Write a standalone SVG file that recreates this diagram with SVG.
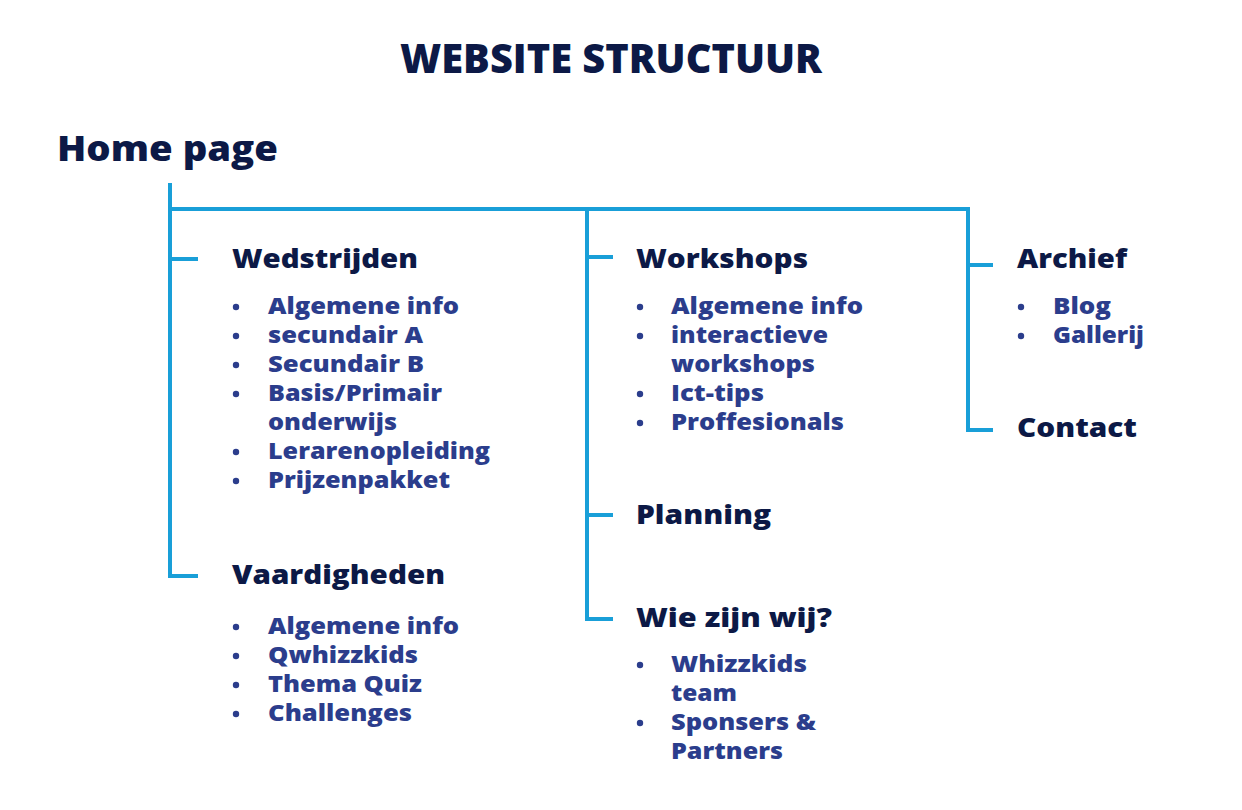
<svg xmlns="http://www.w3.org/2000/svg" width="1242" height="810" viewBox="0 0 1242 810">
<style>
.t{font-family:"Open Sans","Noto Sans",sans-serif;font-weight:800;fill:#0c1946}
.h{font-size:27px}
.i{font-family:"Open Sans","Noto Sans",sans-serif;font-weight:800;font-size:22px;fill:#2b3d8c}
.ln{stroke:#199fd8;stroke-width:4;fill:none;stroke-linecap:butt}
.b{fill:#2b3d8c}
</style>
<rect width="1242" height="810" fill="#ffffff"/>
<text class="t" x="611" y="73" font-size="40" text-anchor="middle" textLength="422" lengthAdjust="spacingAndGlyphs">WEBSITE STRUCTUUR</text>
<g id="connectors">
<path class="ln" d="M170 183 V576 H198"/>
<path class="ln" d="M170 209 H968 V430 H993"/>
<path class="ln" d="M170 259 H198"/>
<path class="ln" d="M587 209 V619 H613"/>
<path class="ln" d="M587 257 H613"/>
<path class="ln" d="M587 515 H613"/>
<path class="ln" d="M968 265 H993"/>
</g>
<g id="home"><text class="t" x="57" y="161" font-size="36" textLength="221" lengthAdjust="spacingAndGlyphs">Home page</text></g>
<g id="wedstrijden">
<text class="t h" x="232" y="268" textLength="186" lengthAdjust="spacingAndGlyphs">Wedstrijden</text>
<circle class="b" cx="236" cy="307" r="3.2"/><text class="i" x="268" y="314" textLength="191" lengthAdjust="spacingAndGlyphs">Algemene info</text>
<circle class="b" cx="236" cy="336" r="3.2"/><text class="i" x="268" y="343" textLength="155" lengthAdjust="spacingAndGlyphs">secundair A</text>
<circle class="b" cx="236" cy="365" r="3.2"/><text class="i" x="268" y="372" textLength="156" lengthAdjust="spacingAndGlyphs">Secundair B</text>
<circle class="b" cx="236" cy="394" r="3.2"/><text class="i" x="268" y="401" textLength="174" lengthAdjust="spacingAndGlyphs">Basis/Primair</text>
<text class="i" x="268" y="430" textLength="129" lengthAdjust="spacingAndGlyphs">onderwijs</text>
<circle class="b" cx="236" cy="452" r="3.2"/><text class="i" x="268" y="459" textLength="222" lengthAdjust="spacingAndGlyphs">Lerarenopleiding</text>
<circle class="b" cx="236" cy="481" r="3.2"/><text class="i" x="268" y="488" textLength="182" lengthAdjust="spacingAndGlyphs">Prijzenpakket</text>
</g>
<g id="vaardigheden">
<text class="t h" x="232" y="584" textLength="213" lengthAdjust="spacingAndGlyphs">Vaardigheden</text>
<circle class="b" cx="236" cy="627" r="3.2"/><text class="i" x="268" y="634" textLength="191" lengthAdjust="spacingAndGlyphs">Algemene info</text>
<circle class="b" cx="236" cy="656" r="3.2"/><text class="i" x="268" y="663" textLength="150" lengthAdjust="spacingAndGlyphs">Qwhizzkids</text>
<circle class="b" cx="236" cy="685" r="3.2"/><text class="i" x="268" y="692" textLength="154" lengthAdjust="spacingAndGlyphs">Thema Quiz</text>
<circle class="b" cx="236" cy="714" r="3.2"/><text class="i" x="268" y="721" textLength="144" lengthAdjust="spacingAndGlyphs">Challenges</text>
</g>
<g id="workshops">
<text class="t h" x="636" y="268" textLength="172" lengthAdjust="spacingAndGlyphs">Workshops</text>
<circle class="b" cx="640" cy="307" r="3.2"/><text class="i" x="671" y="314" textLength="192" lengthAdjust="spacingAndGlyphs">Algemene info</text>
<circle class="b" cx="640" cy="336" r="3.2"/><text class="i" x="671" y="343" textLength="157" lengthAdjust="spacingAndGlyphs">interactieve</text>
<text class="i" x="671" y="372" textLength="144" lengthAdjust="spacingAndGlyphs">workshops</text>
<circle class="b" cx="640" cy="394" r="3.2"/><text class="i" x="671" y="401" textLength="93" lengthAdjust="spacingAndGlyphs">Ict-tips</text>
<circle class="b" cx="640" cy="423" r="3.2"/><text class="i" x="671" y="430" textLength="173" lengthAdjust="spacingAndGlyphs">Proffesionals</text>
</g>
<g id="planning"><text class="t h" x="636" y="524" textLength="135" lengthAdjust="spacingAndGlyphs">Planning</text></g>
<g id="wiezijnwij">
<text class="t h" x="636" y="627" textLength="196" lengthAdjust="spacingAndGlyphs">Wie zijn wij?</text>
<circle class="b" cx="640" cy="665" r="3.2"/><text class="i" x="671" y="672" textLength="136" lengthAdjust="spacingAndGlyphs">Whizzkids</text>
<text class="i" x="671" y="701" textLength="66" lengthAdjust="spacingAndGlyphs">team</text>
<circle class="b" cx="640" cy="723" r="3.2"/><text class="i" x="671" y="730" textLength="145" lengthAdjust="spacingAndGlyphs">Sponsers &amp;</text>
<text class="i" x="671" y="759" textLength="112" lengthAdjust="spacingAndGlyphs">Partners</text>
</g>
<g id="archief">
<text class="t h" x="1017" y="268" textLength="110" lengthAdjust="spacingAndGlyphs">Archief</text>
<circle class="b" cx="1021" cy="307" r="3.2"/><text class="i" x="1053" y="314" textLength="58" lengthAdjust="spacingAndGlyphs">Blog</text>
<circle class="b" cx="1021" cy="336" r="3.2"/><text class="i" x="1053" y="343" textLength="91" lengthAdjust="spacingAndGlyphs">Gallerij</text>
</g>
<g id="contact"><text class="t h" x="1017" y="437" textLength="120" lengthAdjust="spacingAndGlyphs">Contact</text></g>
</svg>
